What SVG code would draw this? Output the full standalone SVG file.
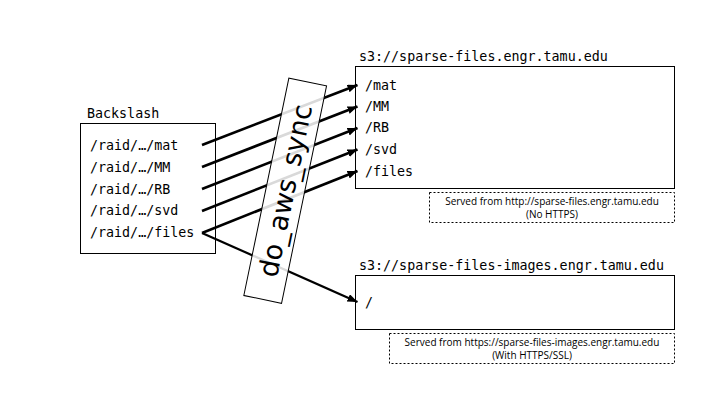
<svg xmlns="http://www.w3.org/2000/svg" width="720" height="405" viewBox="0 0 720 405">
<style>
.mono{font-family:"DejaVu Sans Mono","Liberation Mono",monospace;font-size:13.33px;fill:#000}
.cap{font-family:"Open Sans","Noto Sans",sans-serif;font-size:10px;fill:#000;text-anchor:middle}
.box{fill:#fff;stroke:#000;stroke-width:1}
.dash{fill:#fff;stroke:#000;stroke-width:1;stroke-dasharray:2,2}
.conn{fill:none;stroke:#000;stroke-width:2.6;marker-end:url(#ah)}
</style>
<defs>
<marker id="ah" markerUnits="userSpaceOnUse" markerWidth="12" markerHeight="10" refX="10" refY="4" orient="auto">
<path d="M0,0 L10,4 L0,8 Z" fill="#000"/>
</marker>
</defs>
<rect width="720" height="405" fill="#fff"/>
<g id="backslash">
<text class="mono" x="87" y="118">Backslash</text>
<rect class="box" x="80.5" y="123.5" width="135" height="130"/>
<text class="mono" x="90" y="150">/raid/…/mat</text>
<text class="mono" x="90" y="172">/raid/…/MM</text>
<text class="mono" x="90" y="193.5">/raid/…/RB</text>
<text class="mono" x="90" y="215">/raid/…/svd</text>
<text class="mono" x="90" y="237">/raid/…/files</text>
</g>
<g id="s3-files">
<text class="mono" x="359" y="61">s3://sparse-files.engr.tamu.edu</text>
<rect class="box" x="355.5" y="66.5" width="319" height="122"/>
<text class="mono" x="365" y="89.5">/mat</text>
<text class="mono" x="365" y="111">/MM</text>
<text class="mono" x="365" y="132">/RB</text>
<text class="mono" x="365" y="153.5">/svd</text>
<text class="mono" x="365" y="175.5">/files</text>
</g>
<g id="note-files">
<rect class="dash" x="429.5" y="192.5" width="245" height="30"/>
<text class="cap" x="552" y="204.5">Served from http://sparse-files.engr.tamu.edu</text>
<text class="cap" x="552" y="217.5">(No HTTPS)</text>
</g>
<g id="s3-images">
<text class="mono" x="359" y="270">s3://sparse-files-images.engr.tamu.edu</text>
<rect class="box" x="355.5" y="275.5" width="319" height="54"/>
<text class="mono" x="365" y="307">/</text>
</g>
<g id="note-images">
<rect class="dash" x="389.5" y="333.5" width="285" height="30"/>
<text class="cap" x="532" y="345.5">Served from https://sparse-files-images.engr.tamu.edu</text>
<text class="cap" x="532" y="358.5">(With HTTPS/SSL)</text>
</g>
<g id="connectors">
<path class="conn" d="M202,145 L357.5,85"/>
<path class="conn" d="M202,167 L357.5,106.5"/>
<path class="conn" d="M202,189 L357.5,128"/>
<path class="conn" d="M202,211 L357.5,149.5"/>
<path class="conn" d="M202,233 L357.5,171"/>
<path class="conn" d="M202,233 L357.5,302" style="stroke-width:2.2"/>
</g>
<g id="do_aws_sync" transform="translate(285.2,190.7) rotate(11.7)">
<rect x="-19.25" y="-111" width="38.5" height="222" fill="#fff" fill-opacity="0.85" stroke="#000" stroke-width="1"/>
<text transform="rotate(-90)" x="0" y="0" text-anchor="middle" dominant-baseline="central" font-family="DejaVu Sans, Verdana, sans-serif" font-size="27">do_aws_sync</text>
</g>
</svg>
